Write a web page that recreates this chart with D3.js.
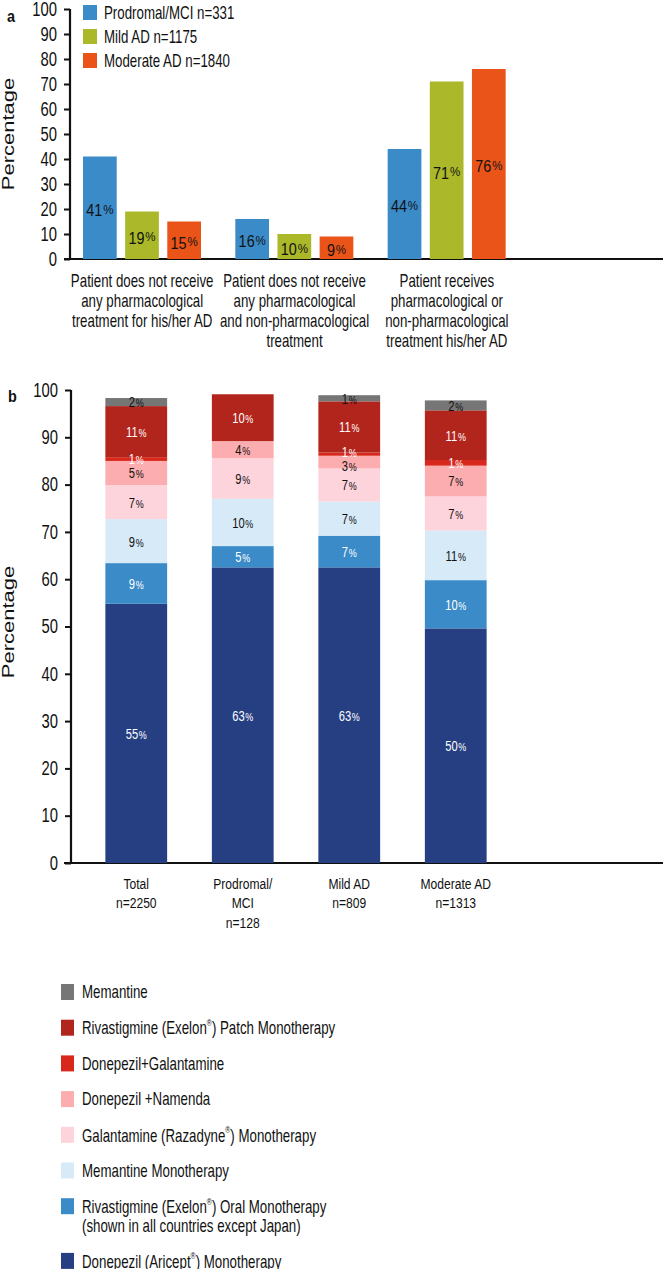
<!DOCTYPE html>
<html><head><meta charset="utf-8">
<script src="https://cdn.jsdelivr.net/npm/d3@7"></script>
<style>
body{margin:0;background:#fff}
text{font-family:"Liberation Sans",Arial,Helvetica,sans-serif}
</style></head><body>
<svg id="c" width="663" height="1269"></svg>
<script>
// ---------- Panel a data ----------
const catsA = [
  ["Patient does not receive","any pharmacological","treatment for his/her AD"],
  ["Patient does not receive","any pharmacological","and non-pharmacological","treatment"],
  ["Patient receives","pharmacological or","non-pharmacological","treatment his/her AD"]
];
const seriesA = ["Prodromal/MCI n=331","Mild AD n=1175","Moderate AD n=1840"];
const prodromalA = [41,16,44];
const mildA = [19,10,71];
const moderateA = [15,9,76];
const colorsA = ["#3a8bc8","#aab82a","#ea5419"];
const ticksA = [0,10,20,30,40,50,60,70,80,90,100];

// ---------- Panel b data ----------
const catsB = [["Total","n=2250"],["Prodromal/","MCI","n=128"],["Mild AD","n=809"],["Moderate AD","n=1313"]];
const treatments = ["Donepezil (Aricept®) Monotherapy","Rivastigmine (Exelon®) Oral Monotherapy","Memantine Monotherapy","Galantamine (Razadyne®) Monotherapy","Donepezil +Namenda","Donepezil+Galantamine","Rivastigmine (Exelon®) Patch Monotherapy","Memantine"];
const donepezil    = [54.8,62.5,62.5,49.6];
const rivaOral     = [8.6,4.5,6.7,10.2];
const memMono      = [9.3,10.0,7.2,10.5];
const galantamine  = [7.2,8.6,7.0,7.2];
const donNamenda   = [5.1,3.6,2.7,6.5];
const donGalant    = [0.8,0,0.7,1.2];
const rivaPatch    = [10.8,9.9,10.8,10.5];
const memantine    = [1.7,0,1.3,2.1];
const colorsB = ["#263f83","#3a8bc8","#d6eaf7","#fdd3dc","#fcadaf","#d8281c","#b2251d","#767676"];
const labelColorsB = ["#fff","#fff","#111","#111","#111","#fff","#fff","#111"];
const ticksB = [0,10,20,30,40,50,60,70,80,90,100];
const legendB = [
  {i:7,lines:["Memantine"]},
  {i:6,lines:["Rivastigmine (Exelon","®",") Patch Monotherapy"]},
  {i:5,lines:["Donepezil+Galantamine"]},
  {i:4,lines:["Donepezil +Namenda"]},
  {i:3,lines:["Galantamine (Razadyne","®",") Monotherapy"]},
  {i:2,lines:["Memantine Monotherapy"]},
  {i:1,lines:["Rivastigmine (Exelon","®",") Oral Monotherapy"],line2:"(shown in all countries except Japan)"},
  {i:0,lines:["Donepezil (Aricept","®",") Monotherapy"]}
];

const SX = 0.76;   // horizontal squeeze of the original artwork
const svg = d3.select("#c");

function txt(g, x, y, size, sx, anchor){
  return g.append("text").attr("transform",`translate(${x},${y}) scale(${sx},1)`)
    .attr("text-anchor",anchor||"start").attr("font-size",size).attr("fill","#111");
}
function pctLabel(g, x, y, v, fill, size, sx){
  const t = txt(g,x,y,size,sx,"middle").attr("dominant-baseline","central").attr("fill",fill);
  t.append("tspan").text(v);
  t.append("tspan").attr("font-size",size*0.8).attr("dx",1).text("%");
}
function styleAxis(ax, y0, y1){
  ax.select(".domain").attr("stroke","#111").attr("stroke-width",2.2).attr("d",`M0,${y0}V${y1}`);
  ax.selectAll(".tick line").attr("stroke","#111").attr("stroke-width",2);
  ax.selectAll(".tick text").attr("font-size",19.5).attr("fill","#111")
    .attr("x",-13/SX).attr("transform",`scale(${SX},1)`);
}

// ================= Panel a =================
{
  const g = svg.append("g");
  const y = d3.scaleLinear().domain([0,100]).range([259,9]);
  const x0 = d3.scaleBand().domain(d3.range(3)).range([66,523]);
  const x1 = d3.scaleBand().domain(d3.range(3)).range([17,135]).paddingInner(0.2);
  const vals = [prodromalA, mildA, moderateA];

  const yAx = g.append("g").attr("transform","translate(70,0)")
    .call(d3.axisLeft(y).tickValues(ticksA).tickSize(6));
  styleAxis(yAx, 9, 259);
  g.append("line").attr("x1",64).attr("x2",663).attr("y1",259).attr("y2",259).attr("stroke","#111").attr("stroke-width",2.2);

  g.append("text").attr("transform",`translate(14,134) rotate(-90) scale(1,${SX})`).attr("text-anchor","middle")
    .attr("font-size",22).attr("fill","#111").text("Percentage");
  txt(g,7,22,17,0.85).attr("font-weight","bold").text("a");

  for(let c=0;c<3;c++){
    for(let s=0;s<3;s++){
      const v = vals[s][c];
      const bx = x0(c)+x1(s);
      g.append("rect").attr("x",bx).attr("y",y(v)).attr("width",x1.bandwidth())
        .attr("height",y(0)-y(v)).attr("fill",colorsA[s]);
      pctLabel(g, bx+x1.bandwidth()/2, (y(v)+y(0))/2+2, v, "#111", 16, 0.9);
    }
    const t = txt(g, x0(c)+x0.bandwidth()/2, 0, 17.5, SX, "middle");
    catsA[c].forEach((ln,i)=>t.append("tspan").attr("x",0).attr("y",287+i*20).text(ln));
  }
  seriesA.forEach((s,i)=>{
    g.append("rect").attr("x",83).attr("y",5+i*24).attr("width",14).attr("height",15).attr("fill",colorsA[i]);
    txt(g,104,13+i*24,17.5,SX).attr("dominant-baseline","central").text(s);
  });
}

// ================= Panel b =================
{
  const g = svg.append("g");
  const y = d3.scaleLinear().domain([0,100]).range([863,390]);
  const x = d3.scaleBand().domain(d3.range(4)).range([83,509]).paddingInner(0.42).paddingOuter(0.21);
  const layers = [donepezil,rivaOral,memMono,galantamine,donNamenda,donGalant,rivaPatch,memantine];

  const yAx = g.append("g").attr("transform","translate(71,0)")
    .call(d3.axisLeft(y).tickValues(ticksB).tickSize(6));
  styleAxis(yAx, 390, 863);
  g.append("line").attr("x1",64).attr("x2",663).attr("y1",863).attr("y2",863).attr("stroke","#111").attr("stroke-width",2.2);

  g.append("text").attr("transform",`translate(14,622) rotate(-90) scale(1,${SX})`).attr("text-anchor","middle")
    .attr("font-size",22).attr("fill","#111").text("Percentage");
  txt(g,8,402,17,0.85).attr("font-weight","bold").text("b");

  for(let c=0;c<4;c++){
    let base = 0;
    const labs = [];
    layers.forEach((arr,k)=>{
      const v = arr[c];
      if(v<=0) return;
      const y0 = y(base), y1 = y(base+v);
      g.append("rect").attr("x",x(c)).attr("y",y1).attr("width",x.bandwidth())
        .attr("height",y0-y1).attr("fill",colorsB[k]);
      labs.push({k, v, ly:(y0+y1)/2+1});
      base += v;
    });
    // push apart labels that would collide (bottom-up)
    const gap = 14;
    for(let i=1;i<labs.length;i++){
      const d = labs[i-1].ly - labs[i].ly;
      if(d < gap){ const sh=(gap-d)/2; labs[i-1].ly += sh; labs[i].ly -= sh; }
    }
    labs.forEach(l=>pctLabel(g, x(c)+x.bandwidth()/2, l.ly, Math.round(l.v), labelColorsB[l.k], 14, 0.8));

    const t = txt(g, x(c)+x.bandwidth()/2, 0, 15.5, 0.78, "middle");
    catsB[c].forEach((ln,i)=>t.append("tspan").attr("x",0).attr("y",889+i*19.5).text(ln));
  }

  legendB.forEach((d,r)=>{
    const cy = 992 + r*35.7 + (r===7 ? 19 : 0);
    g.append("rect").attr("x",61).attr("y",cy-8).attr("width",13).attr("height",16).attr("fill",colorsB[d.i]);
    const t = txt(g,82,cy,17.5,SX).attr("dominant-baseline","central");
    if(d.lines.length===1) t.text(d.lines[0]);
    else {
      t.append("tspan").text(d.lines[0]);
      t.append("tspan").attr("font-size",9).attr("dy",-5).text(d.lines[1]);
      t.append("tspan").attr("dy",5).text(d.lines[2]);
    }
    if(d.line2){
      txt(g,82,cy+20,17.5,SX).attr("dominant-baseline","central").text(d.line2);
    }
  });
}
</script>
</body></html>
